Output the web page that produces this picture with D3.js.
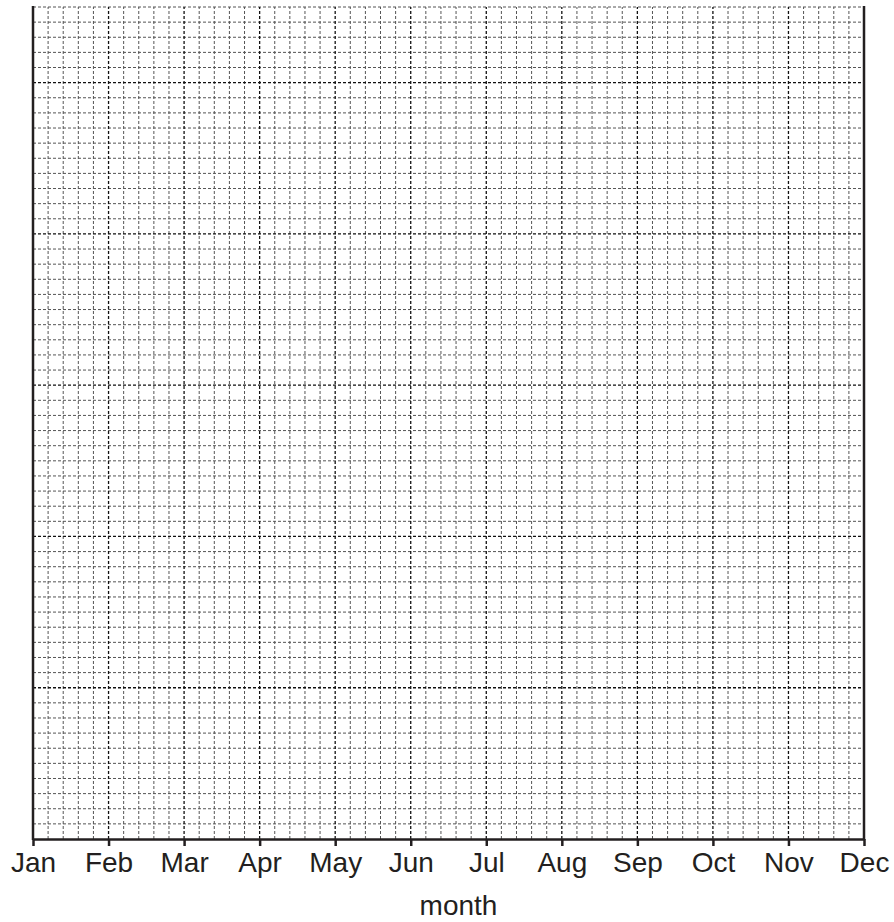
<!DOCTYPE html>
<html>
<head>
<meta charset="utf-8">
<script src="https://cdn.jsdelivr.net/npm/d3@7"></script>
<style>
  body { margin: 0; background: #fff; }
  text { font-family: "Liberation Sans", Arial, sans-serif; fill: #231f20; }
</style>
</head>
<body>
<div class="chart"></div>
<script>
const months = ['Jan', 'Feb', 'Mar', 'Apr', 'May', 'Jun', 'Jul', 'Aug', 'Sep', 'Oct', 'Nov', 'Dec'];
const yMajor = [0, 1, 2, 3, 4, 5];
const yMax = 5.5;
const xSubdiv = 5;   // minor lines per month
const ySubdiv = 10;  // minor lines per major y step

const width = 894, height = 922;
const margin = { top: 7, right: 30, bottom: 83, left: 33 };

const svg = d3.select('.chart')
  .append('svg')
  .attr('width', width)
  .attr('height', height);

const x = d3.scalePoint()
  .domain(months)
  .range([margin.left, width - margin.right]);

// fractional month index for the minor grid
const xi = d3.scaleLinear()
  .domain([0, months.length - 1])
  .range([margin.left, width - margin.right]);

const y = d3.scaleLinear()
  .domain([0, yMax])
  .range([height - margin.bottom, margin.top]);

const xMinor = d3.range(0, (months.length - 1) * xSubdiv + 1).map(i => i / xSubdiv);
const yMinor = d3.range(0, Math.round(yMax * ySubdiv) + 1).map(i => i / ySubdiv);

const grid = svg.append('g');

// minor grid
grid.selectAll('.vminor')
  .data(xMinor.filter(v => Math.abs(v - Math.round(v)) > 1e-6))
  .enter()
  .append('line')
  .attr('x1', d => xi(d)).attr('x2', d => xi(d))
  .attr('y1', y(0)).attr('y2', y(yMax))
  .attr('stroke', '#555')
  .attr('stroke-width', 1)
  .attr('stroke-dasharray', '3,2');

grid.selectAll('.hminor')
  .data(yMinor.filter(v => Math.abs(v - Math.round(v)) > 1e-6))
  .enter()
  .append('line')
  .attr('x1', xi(0)).attr('x2', xi(months.length - 1))
  .attr('y1', d => y(d)).attr('y2', d => y(d))
  .attr('stroke', '#555')
  .attr('stroke-width', 1)
  .attr('stroke-dasharray', '3,2');

// major grid
grid.selectAll('.vmajor')
  .data(months.slice(1, -1))
  .enter()
  .append('line')
  .attr('x1', d => x(d)).attr('x2', d => x(d))
  .attr('y1', y(0)).attr('y2', y(yMax))
  .attr('stroke', '#111')
  .attr('stroke-width', 1.3)
  .attr('stroke-dasharray', '3,2');

grid.selectAll('.hmajor')
  .data(yMajor.slice(1))
  .enter()
  .append('line')
  .attr('x1', xi(0)).attr('x2', xi(months.length - 1))
  .attr('y1', d => y(d)).attr('y2', d => y(d))
  .attr('stroke', '#111')
  .attr('stroke-width', 1.3)
  .attr('stroke-dasharray', '3,2');

// bottom axis
const xAxis = svg.append('g')
  .attr('transform', `translate(0,${y(0)})`)
  .call(d3.axisBottom(x).tickSize(7).tickSizeOuter(0).tickPadding(6));
xAxis.select('.domain').attr('stroke', '#231f20').attr('stroke-width', 2.5);
xAxis.selectAll('.tick line').attr('stroke', '#231f20').attr('stroke-width', 2.5);
xAxis.selectAll('.tick text')
  .attr('font-size', 28)
  .attr('font-family', '"Liberation Sans", Arial, sans-serif')
  .attr('fill', '#231f20');

// left and right frame
svg.append('line')
  .attr('x1', xi(0)).attr('x2', xi(0))
  .attr('y1', y(0) + 1).attr('y2', y(yMax) - 1)
  .attr('stroke', '#231f20').attr('stroke-width', 2.5);
svg.append('line')
  .attr('x1', xi(months.length - 1)).attr('x2', xi(months.length - 1))
  .attr('y1', y(0) + 1).attr('y2', y(yMax) - 1)
  .attr('stroke', '#231f20').attr('stroke-width', 2.5);

// axis title sits a little right of the plot centre in the reference
svg.append('text')
  .attr('x', (xi(0) + xi(months.length - 1)) / 2 + 10)
  .attr('y', 915)
  .attr('text-anchor', 'middle')
  .attr('font-size', 28)
  .text('month');
</script>
</body>
</html>
